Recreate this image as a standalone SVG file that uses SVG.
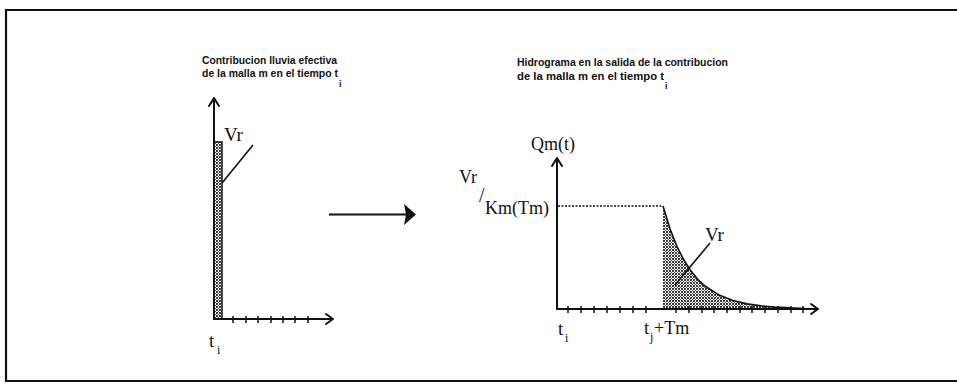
<svg xmlns="http://www.w3.org/2000/svg" width="957" height="389" viewBox="0 0 957 389">
<style>
.frame{fill:none;stroke:#111;stroke-width:2.2}
.axis{fill:none;stroke:#111;stroke-width:2;stroke-linecap:round;stroke-linejoin:round}
.tick{stroke:#111;stroke-width:1.5}
.lead{stroke:#111;stroke-width:1.6;fill:none}
.title{font-family:"Liberation Sans",Arial,sans-serif;font-weight:bold;font-size:10px;fill:#111}
.sub{font-family:"Liberation Sans",Arial,sans-serif;font-weight:bold;font-size:9px;fill:#111}
.lbl{font-family:"Liberation Serif","Times New Roman",serif;fill:#111}
</style>
<defs>
<pattern id="stip" width="3" height="3" patternUnits="userSpaceOnUse">
<rect width="3" height="3" fill="#fff"/>
<circle cx="1" cy="1" r="1.1" fill="#222"/>
<circle cx="2.5" cy="2.5" r="0.6" fill="#444"/>
</pattern>
</defs>
<rect width="957" height="389" fill="#fff"/>
<g id="frame">
<path class="frame" d="M957,10 L6,10 L6,381 L957,381"/>
</g>
<g id="left-chart">
<text class="title" x="202" y="64" textLength="135" lengthAdjust="spacingAndGlyphs">Contribucion lluvia efectiva</text>
<text class="title" x="202" y="77" textLength="136" lengthAdjust="spacingAndGlyphs">de la malla m en el tiempo t</text>
<text class="sub" x="339" y="87">i</text>
<rect x="214" y="142" width="8" height="177" fill="url(#stip)" stroke="#111" stroke-width="1.5"/>
<path class="axis" d="M214,319 L214,98 M209,106 L214,98 L219,106"/>
<path class="axis" d="M214,319 L333,319 M326,314 L333,319 L326,324"/>
<g class="tick">
<line x1="233" y1="316" x2="233" y2="323"/><line x1="246" y1="316" x2="246" y2="323"/>
<line x1="258" y1="316" x2="258" y2="323"/><line x1="271" y1="316" x2="271" y2="323"/>
<line x1="283" y1="316" x2="283" y2="323"/><line x1="295" y1="316" x2="295" y2="323"/>
<line x1="308" y1="316" x2="308" y2="323"/>
</g>
<line class="lead" x1="253" y1="145" x2="222" y2="183"/>
<text class="lbl" x="224" y="141" font-size="19">Vr</text>
<text class="lbl" x="209" y="347" font-size="19">t</text>
<text class="lbl" x="217" y="354" font-size="12">i</text>
</g>
<g id="connectors">
<line x1="329" y1="214.5" x2="406" y2="214.5" stroke="#111" stroke-width="2"/>
<polygon points="404,204 416,214.5 404,225 406,214.5" fill="#111"/>
</g>
<g id="right-chart">
<text class="title" x="517" y="66" textLength="211" lengthAdjust="spacingAndGlyphs">Hidrograma en la salida de la contribucion</text>
<text class="title" x="517" y="80" textLength="147" lengthAdjust="spacingAndGlyphs">de la malla m en el tiempo t</text>
<text class="sub" x="665" y="89">i</text>
<path d="M663,206 L670,228.8 L677,246.5 L684,260.3 L691,271.1 L698,279.5 L705,286 L719,295.1 L733,300.5 L747,303.9 L761,305.9 L775,307.1 L789,307.9 L805,308.6 L805,309 L663,309 Z" fill="url(#stip)"/>
<path d="M663,206 L670,228.8 L677,246.5 L684,260.3 L691,271.1 L698,279.5 L705,286 L719,295.1 L733,300.5 L747,303.9 L761,305.9 L775,307.1 L789,307.9 L805,308.6" fill="none" stroke="#111" stroke-width="1.6"/>
<line x1="558" y1="206" x2="663" y2="206" stroke="#111" stroke-width="1.5" stroke-dasharray="2 1.5"/>
<path class="axis" d="M557,309 L557,158 M552,166 L557,158 L562,166"/>
<path class="axis" d="M557,309 L818,309 M811,304 L818,309 L811,314"/>
<g class="tick">
<line x1="568" y1="306" x2="568" y2="313"/><line x1="581" y1="306" x2="581" y2="313"/>
<line x1="594" y1="306" x2="594" y2="313"/><line x1="607" y1="306" x2="607" y2="313"/>
<line x1="620" y1="306" x2="620" y2="313"/><line x1="633" y1="306" x2="633" y2="313"/>
<line x1="646" y1="306" x2="646" y2="313"/><line x1="676" y1="306" x2="676" y2="313"/>
<line x1="689" y1="306" x2="689" y2="313"/><line x1="702" y1="306" x2="702" y2="313"/>
<line x1="714" y1="306" x2="714" y2="313"/><line x1="727" y1="306" x2="727" y2="313"/>
<line x1="740" y1="306" x2="740" y2="313"/><line x1="752" y1="306" x2="752" y2="313"/>
<line x1="765" y1="306" x2="765" y2="313"/><line x1="778" y1="306" x2="778" y2="313"/>
<line x1="791" y1="306" x2="791" y2="313"/><line x1="803" y1="306" x2="803" y2="313"/>
</g>
<line class="lead" x1="710" y1="243" x2="675" y2="285"/>
<text class="lbl" x="705" y="241" font-size="19">Vr</text>
<text class="lbl" x="531" y="150" font-size="18">Qm(t)</text>
<text class="lbl" x="459" y="183" font-size="18">Vr</text>
<text class="lbl" x="479" y="202" font-size="20">/</text>
<text class="lbl" x="485" y="214" font-size="18">Km(Tm)</text>
<text class="lbl" x="558" y="335" font-size="19">t</text>
<text class="lbl" x="565" y="342" font-size="12">i</text>
<text class="lbl" x="644" y="334" font-size="19">t</text>
<text class="lbl" x="650" y="341" font-size="12">j</text>
<text class="lbl" x="654" y="334" font-size="18">+Tm</text>
</g>
</svg>
